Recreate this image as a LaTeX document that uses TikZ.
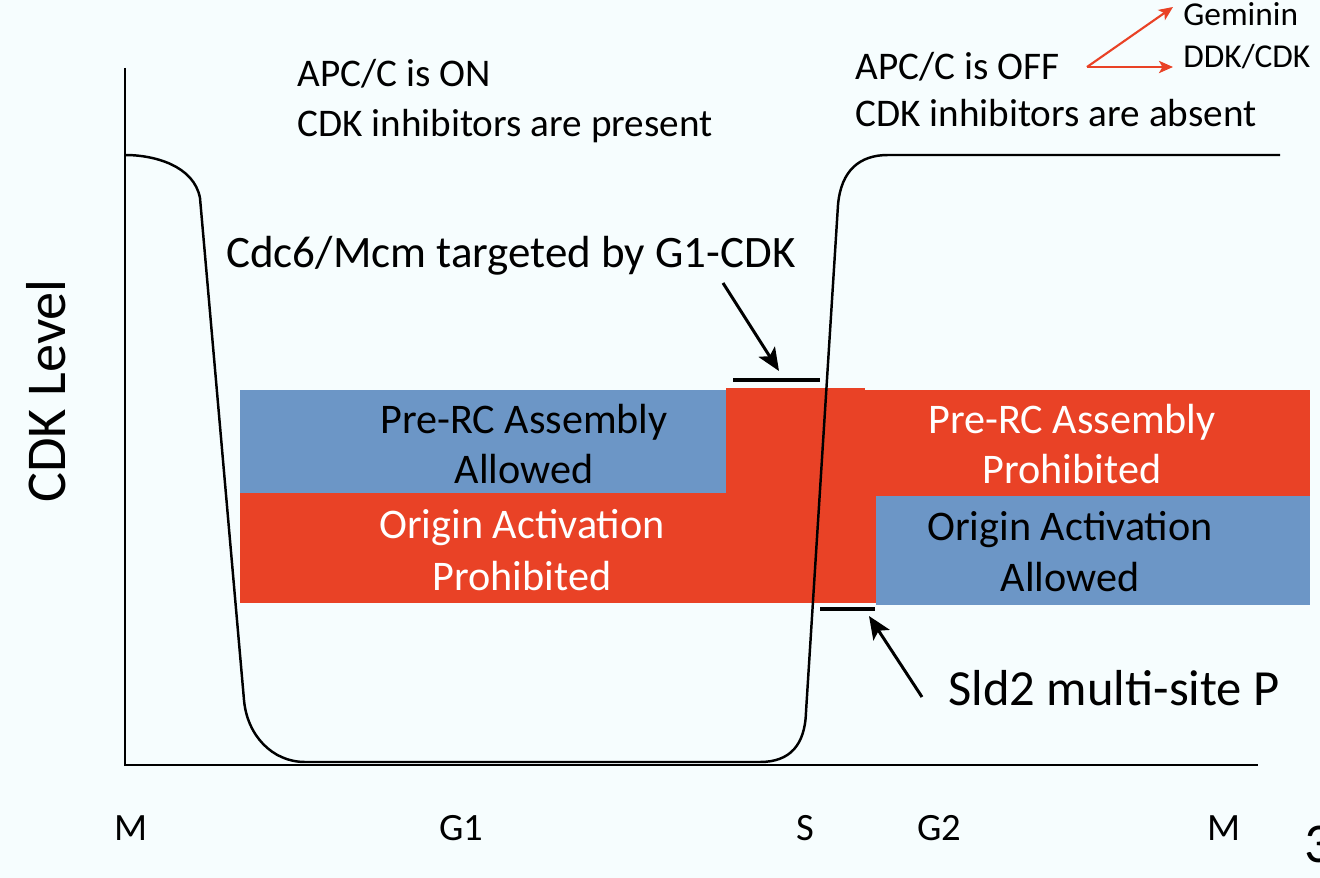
\documentclass[tikz,border=0pt]{standalone}
\usepackage{fontspec}
\setmainfont{Carlito}
\usetikzlibrary{arrows.meta}
\definecolor{bgcol}{RGB}{246,253,254}
\definecolor{prcblue}{RGB}{108,150,198}
\definecolor{prcred}{RGB}{233,66,38}

\begin{document}
\begin{tikzpicture}[x=0.02cm,y=-0.02cm,
    txt/.style={inner sep=0pt, anchor=base west, font=\fontsize{22.3}{26}\selectfont},
    boxtxt/.style={inner sep=0pt, anchor=base, font=\fontsize{24}{28}\selectfont},
    phase/.style={inner sep=0pt, anchor=base, font=\fontsize{22}{26}\selectfont},
    bar/.style={line width=2.3pt},
    pointer/.style={-{Stealth[length=13pt,width=11pt,inset=3pt]}, line width=1.7pt},
    redptr/.style={-{Stealth[length=8pt,width=7pt,inset=2pt]}, draw=prcred, line width=1.2pt}]
    \clip (0,0) rectangle (1320,878);
    \fill[bgcol] (0,0) rectangle (1320,878);
    % licensing windows
    \fill[prcblue] (240,390) rectangle (726,493);
    \fill[prcred] (240,493) rectangle (876,603);
    \fill[prcred] (726,388) rectangle (865,496);
    \fill[prcred] (865,390) rectangle (1310,496);
    \fill[prcblue] (876,496) rectangle (1310,605);
    % axes
    \coordinate (ytop) at (125,68);
    \coordinate (O) at (125,765);
    \coordinate (xend) at (1258,765);
    \draw[line width=1.7pt] (ytop) -- (O) -- (xend);
    % CDK level
    \draw[line width=1.4pt] (125,155) .. controls (155,155) and (194,166) .. (200,198)
        -- (244,700) .. controls (247,735) and (272,762) .. (305,762)
        -- (760,762) .. controls (790,762) and (805,745) .. (806,712)
        -- (838,205) .. controls (841,170) and (860,155) .. (888,155) -- (1280,155);
    % texts
    \node[txt] (apcon) at (297,87) {APC/C is ON};
    \node[txt] (inhpres) at (297,137) {CDK inhibitors are present};
    \node[txt] (apcoff) at (855,80) {APC/C is OFF};
    \node[txt] (inhabs) at (855,127) {CDK inhibitors are absent};
    \node[txt, font=\fontsize{19}{22}\selectfont] (gem) at (1183,26) {Geminin};
    \node[txt, font=\fontsize{19}{22}\selectfont] (ddk) at (1183,68) {DDK/CDK};
    \node[txt, font=\fontsize{25.6}{29}\selectfont] (cdc) at (226,268) {Cdc6/Mcm targeted by G1-CDK};
    \node[txt, font=\fontsize{28.8}{32}\selectfont] (sld) at (948,706) {Sld2 multi-site P};
    \node[inner sep=0pt, anchor=base, rotate=90, font=\fontsize{32}{36}\selectfont] (cdklvl) at (65,391) {CDK Level};
    \node[boxtxt] (preA1) at (524,434) {Pre-RC Assembly};
    \node[boxtxt] (preA2) at (524,484) {Allowed};
    \node[boxtxt, text=white] (oriP1) at (522,539) {Origin Activation};
    \node[boxtxt, text=white] (oriP2) at (522,591) {Prohibited};
    \node[boxtxt, text=white] (preP1) at (1072,434) {Pre-RC Assembly};
    \node[boxtxt, text=white] (preP2) at (1072,484) {Prohibited};
    \node[boxtxt] (oriA1) at (1070,541) {Origin Activation};
    \node[boxtxt] (oriA2) at (1070,592) {Allowed};
    % phases
    \node[phase] (m1) at (131,841) {M};
    \node[phase] (g1) at (461,841) {G1};
    \node[phase] (s) at (805,841) {S};
    \node[phase] (g2) at (939,841) {G2};
    \node[phase] (m2) at (1224,841) {M};
    \node[txt, font=\fontsize{32}{36}\selectfont] (pg) at (1304,863) {3};
    % markers
    \coordinate (b1l) at (733,380);
    \coordinate (b1r) at (820,380);
    \coordinate (b2l) at (820,609);
    \coordinate (b2r) at (875,609);
    \draw[bar] (b1l) -- (b1r);
    \draw[bar] (b2l) -- (b2r);
    \coordinate (p1) at (723,283);
    \coordinate (t1) at (779,371);
    \coordinate (p2) at (922,697);
    \coordinate (t2) at (869,616);
    \draw[pointer] (p1) -- (t1);
    \draw[pointer] (p2) -- (t2);
    \coordinate (fork) at (1087,67);
    \draw[redptr] (fork) -- (1173,7);
    \draw[redptr] (fork) -- (1173,67);
\end{tikzpicture}
\end{document}
